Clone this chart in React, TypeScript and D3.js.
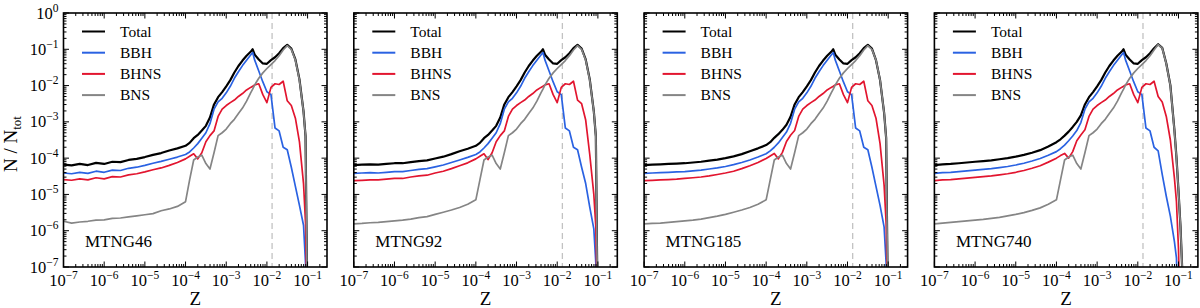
import React, { useEffect, useRef } from 'react';
import * as d3 from 'd3';

// log10(Z) of the bins shared by every panel
const zExp = [-7.0, -6.8, -6.6, -6.4, -6.2, -6.0, -5.8, -5.6, -5.4, -5.2, -5.0, -4.8, -4.6, -4.4, -4.2,
  -4.0, -3.9, -3.8, -3.7, -3.6, -3.5, -3.4, -3.3, -3.2, -3.1,
  -3.0, -2.9, -2.8, -2.7, -2.6, -2.5, -2.4, -2.35, -2.3, -2.2,
  -2.1, -2.0, -1.9, -1.8, -1.7, -1.6, -1.5, -1.4, -1.3, -1.2,
  -1.1, -1.05, -1.0, -0.95, -0.9, -0.85];

// log10(N/Ntot), null where the curve has ended
const total46 = [-4.18, -4.20, -4.16, -4.19, -4.13, -4.16, -4.10, -4.11, -4.05, -4.02, -3.97, -3.91, -3.86, -3.79, -3.73,
  -3.66, -3.58, -3.45, -3.36, -3.24, -3.11, -2.88, -2.52, -2.32, -2.18,
  -2.02, -1.85, -1.64, -1.46, -1.31, -1.18, -1.07, -1.00, -1.15, -1.28,
  -1.39, -1.40, -1.30, -1.22, -1.11, -0.97, -0.88, -0.98, -1.28, -1.83,
  -2.71, -3.40, -9, null, null, null];
const bbh46 = [-4.41, -4.43, -4.39, -4.42, -4.36, -4.39, -4.33, -4.34, -4.28, -4.25, -4.20, -4.14, -4.09, -4.03, -3.97,
  -3.90, -3.83, -3.72, -3.60, -3.45, -3.30, -3.05, -2.65, -2.45, -2.35,
  -2.20, -2.02, -1.80, -1.62, -1.45, -1.30, -1.16, -1.09, -1.30, -1.60,
  -1.90, -2.17, -2.25, -3.17, -3.25, -3.70, -3.77, -4.25, -4.78, -5.30,
  -5.85, -6.90, -9, null, null, null];
const bhns46 = [-4.59, -4.61, -4.57, -4.60, -4.54, -4.57, -4.51, -4.52, -4.46, -4.43, -4.38, -4.32, -4.27, -4.20, -4.12,
  -4.02, -3.95, -3.88, -4.02, -3.85, -3.55, -3.38, -3.25, -2.85, -2.65,
  -2.55, -2.47, -2.40, -2.30, -2.22, -2.12, -2.05, -2.02, -1.98, -1.95,
  -2.25, -2.47, -2.05, -1.95, -1.97, -1.88, -2.42, -2.55, -2.90, -3.55,
  -4.70, -5.80, -9, null, null, null];
const bns46 = [-5.74, -5.79, -5.76, -5.74, -5.71, -5.70, -5.66, -5.65, -5.62, -5.59, -5.56, -5.53, -5.45, -5.40, -5.33,
  -5.20, -4.60, -4.05, -3.97, -3.92, -4.15, -4.30, -3.85, -3.38, -3.30,
  -3.20, -3.05, -2.93, -2.77, -2.62, -2.43, -2.20, -2.10, -1.98, -1.80,
  -1.65, -1.53, -1.42, -1.31, -1.18, -1.02, -0.90, -1.00, -1.30, -1.85,
  -2.72, -3.40, -9, null, null, null];

const total92 = [-4.19, -4.18, -4.17, -4.18, -4.16, -4.14, -4.14, -4.11, -4.08, -4.06, -4.01, -3.96, -3.89, -3.81, -3.74,
  -3.66, -3.58, -3.45, -3.36, -3.24, -3.11, -2.88, -2.52, -2.32, -2.18,
  -2.02, -1.85, -1.64, -1.46, -1.31, -1.18, -1.07, -1.00, -1.15, -1.28,
  -1.39, -1.40, -1.30, -1.22, -1.11, -0.97, -0.88, -0.98, -1.28, -1.83,
  -2.71, -3.40, -9, null, null, null];
const bbh92 = [-4.42, -4.41, -4.40, -4.41, -4.39, -4.37, -4.37, -4.34, -4.31, -4.29, -4.24, -4.19, -4.12, -4.05, -3.98,
  -3.90, -3.83, -3.72, -3.60, -3.45, -3.30, -3.05, -2.65, -2.45, -2.35,
  -2.20, -2.02, -1.80, -1.62, -1.45, -1.30, -1.16, -1.09, -1.30, -1.60,
  -1.90, -2.17, -2.25, -3.17, -3.25, -3.70, -3.77, -4.25, -4.70, -5.35,
  -5.95, -6.90, -9, null, null, null];
const bhns92 = [-4.62, -4.61, -4.60, -4.60, -4.58, -4.56, -4.56, -4.52, -4.49, -4.47, -4.41, -4.36, -4.29, -4.21, -4.13,
  -4.02, -3.95, -3.88, -4.04, -3.85, -3.55, -3.38, -3.25, -2.85, -2.65,
  -2.55, -2.47, -2.40, -2.30, -2.22, -2.12, -2.05, -2.02, -1.98, -1.95,
  -2.25, -2.47, -2.05, -1.95, -1.97, -1.88, -2.40, -2.50, -2.95, -3.90,
  -5.00, -5.90, -9, null, null, null];
const bns92 = [-5.81, -5.80, -5.78, -5.77, -5.75, -5.73, -5.71, -5.68, -5.64, -5.61, -5.55, -5.49, -5.43, -5.36, -5.27,
  -5.15, -4.60, -4.05, -3.97, -3.92, -4.15, -4.30, -3.85, -3.38, -3.30,
  -3.20, -3.05, -2.93, -2.77, -2.62, -2.43, -2.20, -2.10, -1.98, -1.80,
  -1.65, -1.53, -1.42, -1.31, -1.18, -1.02, -0.90, -1.00, -1.30, -1.85,
  -2.72, -3.40, -9, null, null, null];

const total185 = [-4.19, -4.18, -4.17, -4.16, -4.15, -4.14, -4.12, -4.10, -4.07, -4.04, -4.00, -3.95, -3.89, -3.81, -3.73,
  -3.64, -3.56, -3.44, -3.34, -3.22, -3.08, -2.86, -2.52, -2.32, -2.18,
  -2.02, -1.85, -1.64, -1.46, -1.31, -1.18, -1.07, -1.00, -1.15, -1.28,
  -1.39, -1.40, -1.30, -1.22, -1.11, -0.97, -0.88, -0.98, -1.30, -1.85,
  -2.75, -3.45, -9, null, null, null];
const bbh185 = [-4.42, -4.41, -4.40, -4.39, -4.38, -4.37, -4.35, -4.33, -4.30, -4.27, -4.23, -4.18, -4.12, -4.05, -3.97,
  -3.88, -3.80, -3.70, -3.58, -3.43, -3.28, -3.04, -2.65, -2.45, -2.35,
  -2.20, -2.02, -1.80, -1.62, -1.45, -1.30, -1.16, -1.09, -1.30, -1.60,
  -1.90, -2.17, -2.25, -3.17, -3.25, -3.70, -3.77, -4.25, -4.78, -5.30,
  -5.90, -6.90, -9, null, null, null];
const bhns185 = [-4.62, -4.61, -4.60, -4.59, -4.58, -4.56, -4.54, -4.52, -4.49, -4.45, -4.41, -4.36, -4.29, -4.21, -4.12,
  -4.01, -3.94, -3.87, -4.02, -3.84, -3.54, -3.37, -3.24, -2.85, -2.65,
  -2.55, -2.47, -2.40, -2.30, -2.22, -2.12, -2.05, -2.02, -1.98, -1.95,
  -2.25, -2.47, -2.05, -1.95, -1.97, -1.88, -2.42, -2.55, -2.90, -3.60,
  -4.75, -5.80, -9, null, null, null];
const bns185 = [-5.81, -5.80, -5.79, -5.77, -5.75, -5.73, -5.71, -5.68, -5.64, -5.60, -5.55, -5.49, -5.43, -5.36, -5.27,
  -5.15, -4.60, -4.05, -3.97, -3.92, -4.15, -4.30, -3.85, -3.38, -3.30,
  -3.20, -3.05, -2.93, -2.77, -2.62, -2.43, -2.20, -2.10, -1.98, -1.80,
  -1.65, -1.53, -1.42, -1.31, -1.18, -1.02, -0.90, -1.00, -1.30, -1.85,
  -2.75, -3.45, -9, null, null, null];

const total740 = [-4.19, -4.17, -4.16, -4.14, -4.12, -4.10, -4.08, -4.06, -4.03, -4.00, -3.96, -3.91, -3.85, -3.78, -3.68,
  -3.56, -3.48, -3.38, -3.27, -3.14, -3.00, -2.82, -2.52, -2.32, -2.18,
  -2.02, -1.85, -1.64, -1.46, -1.31, -1.18, -1.07, -1.00, -1.15, -1.28,
  -1.39, -1.40, -1.30, -1.22, -1.11, -0.97, -0.86, -0.96, -1.39, -1.99,
  -3.23, -3.98, -4.90, -5.90, -7.30, -9];
const bbh740 = [-4.42, -4.40, -4.39, -4.37, -4.35, -4.33, -4.31, -4.29, -4.26, -4.23, -4.19, -4.14, -4.08, -4.01, -3.92,
  -3.82, -3.74, -3.64, -3.52, -3.39, -3.24, -3.02, -2.65, -2.45, -2.35,
  -2.20, -2.02, -1.80, -1.62, -1.45, -1.30, -1.16, -1.09, -1.30, -1.60,
  -1.90, -2.17, -2.25, -3.17, -3.25, -3.70, -3.80, -4.45, -5.05, -5.60,
  -6.30, -6.75, -9, null, null, null];
const bhns740 = [-4.62, -4.60, -4.59, -4.57, -4.55, -4.53, -4.51, -4.49, -4.46, -4.43, -4.39, -4.34, -4.28, -4.21, -4.11,
  -4.00, -3.93, -3.87, -4.00, -3.82, -3.52, -3.36, -3.22, -2.85, -2.65,
  -2.55, -2.47, -2.40, -2.30, -2.22, -2.12, -2.05, -2.02, -1.98, -1.95,
  -2.25, -2.47, -2.05, -1.95, -1.97, -1.88, -2.30, -2.45, -2.85, -3.50,
  -4.55, -5.20, -6.50, -9, null, null];
const bns740 = [-5.81, -5.79, -5.77, -5.75, -5.73, -5.71, -5.69, -5.66, -5.63, -5.59, -5.55, -5.50, -5.44, -5.37, -5.27,
  -5.15, -4.60, -4.05, -3.97, -3.92, -4.15, -4.30, -3.85, -3.38, -3.30,
  -3.20, -3.05, -2.93, -2.77, -2.62, -2.43, -2.20, -2.10, -1.98, -1.80,
  -1.65, -1.53, -1.42, -1.31, -1.18, -1.02, -0.87, -0.97, -1.40, -2.00,
  -3.25, -4.00, -4.90, -5.90, -7.30, -9];

const panelNames = ['MTNG46', 'MTNG92', 'MTNG185', 'MTNG740'];
const panelSeries = [
  [total46, bbh46, bhns46, bns46],
  [total92, bbh92, bhns92, bns92],
  [total185, bbh185, bhns185, bns185],
  [total740, bbh740, bhns740, bns740],
];
const seriesNames = ['Total', 'BBH', 'BHNS', 'BNS'];
const seriesColors = ['#000000', '#2a62e2', '#e2152f', '#858585'];
const seriesWidths = [2.2, 1.7, 1.7, 1.7];
const xTickExp = [-7, -6, -5, -4, -3, -2, -1];
const yTickExp = [0, -1, -2, -3, -4, -5, -6, -7];
const zSun = 0.0134;

const W = 1200;
const H = 308;
const left0 = 63.5;
const pitch = 290.3;
const panelW = 263.5;
const top = 13;
const bottom = 267;
const font = '"Liberation Serif", "Times New Roman", serif';

export default function App() {
  const ref = useRef<SVGSVGElement>(null);

  useEffect(() => {
    const svg = d3.select(ref.current);
    svg.selectAll('*').remove();

    const x = d3.scaleLog().domain([1e-7, 0.3]).range([0, panelW]);
    const y = d3.scaleLog().domain([1e-7, 1]).range([bottom, top]);

    const xMinor: number[] = [];
    for (let d = -7; d <= -1; d++) {
      for (let k = 2; k <= 9; k++) {
        const v = k * Math.pow(10, d);
        if (v < 0.3 * 0.999) xMinor.push(v);
      }
    }
    const yMinor: number[] = [];
    for (let d = -7; d <= -1; d++) {
      for (let k = 2; k <= 9; k++) yMinor.push(k * Math.pow(10, d));
    }

    const line = d3.line<[number, number | null]>()
      .defined(d => d[1] !== null)
      .x(d => x(Math.pow(10, d[0])))
      .y(d => y(Math.pow(10, d[1] as number)));

    panelNames.forEach((name, p) => {
      const g = svg.append('g').attr('transform', `translate(${left0 + p * pitch},0)`);

      g.append('clipPath').attr('id', `clip${p}`)
        .append('rect').attr('x', 0).attr('y', top).attr('width', panelW).attr('height', bottom - top);

      // solar metallicity
      g.append('line')
        .attr('x1', x(zSun)).attr('x2', x(zSun))
        .attr('y1', top).attr('y2', bottom)
        .attr('stroke', '#c2c2c2').attr('stroke-width', 1.3)
        .attr('stroke-dasharray', '6 4');

      const plot = g.append('g').attr('clip-path', `url(#clip${p})`);
      panelSeries[p].forEach((vals, s) => {
        const pts = zExp.map((e, i) => [e, vals[i]] as [number, number | null]);
        plot.append('path')
          .attr('d', line(pts))
          .attr('fill', 'none')
          .attr('stroke', seriesColors[s])
          .attr('stroke-width', seriesWidths[s])
          .attr('stroke-linejoin', 'round');
      });

      // ticks on all four sides, pointing inward
      const ticks = g.append('g').attr('stroke', '#000').attr('stroke-width', 1);
      const xt = (v: number, len: number) => {
        ticks.append('line').attr('x1', x(v)).attr('x2', x(v)).attr('y1', bottom).attr('y2', bottom - len);
        ticks.append('line').attr('x1', x(v)).attr('x2', x(v)).attr('y1', top).attr('y2', top + len);
      };
      const yt = (v: number, len: number) => {
        ticks.append('line').attr('x1', 0).attr('x2', len).attr('y1', y(v)).attr('y2', y(v));
        ticks.append('line').attr('x1', panelW).attr('x2', panelW - len).attr('y1', y(v)).attr('y2', y(v));
      };
      xTickExp.forEach(e => xt(Math.pow(10, e), 5.5));
      xMinor.forEach(v => xt(v, 3));
      yTickExp.forEach(e => yt(Math.pow(10, e), 5.5));
      yMinor.forEach(v => yt(v, 3));

      g.append('rect')
        .attr('x', 0).attr('y', top).attr('width', panelW).attr('height', bottom - top)
        .attr('fill', 'none').attr('stroke', '#000').attr('stroke-width', 1.6);

      // x tick labels
      xTickExp.forEach(e => {
        const t = g.append('text')
          .attr('x', x(Math.pow(10, e))).attr('y', 285.5)
          .attr('text-anchor', 'middle')
          .attr('font-family', font).attr('font-size', 16.5);
        t.append('tspan').text('10');
        t.append('tspan').attr('font-size', 11.5).attr('dy', -7).text('\u2212' + Math.abs(e));
      });

      g.append('text')
        .attr('x', panelW / 2).attr('y', 305)
        .attr('text-anchor', 'middle')
        .attr('font-family', font).attr('font-size', 19)
        .text('Z');

      // legend
      seriesNames.forEach((sn, s) => {
        const ly = 31.5 + s * 21.2;
        g.append('line')
          .attr('x1', 18.5).attr('x2', 41.5).attr('y1', ly).attr('y2', ly)
          .attr('stroke', seriesColors[s]).attr('stroke-width', 2);
        g.append('text')
          .attr('x', 56.5).attr('y', ly + 5)
          .attr('font-family', font).attr('font-size', 15.5)
          .text(sn);
      });

      g.append('text')
        .attr('x', 21.5).attr('y', 246.5)
        .attr('font-family', font).attr('font-size', 17)
        .text(name);

      if (p === 0) {
        yTickExp.forEach(e => {
          const t = g.append('text')
            .attr('x', -5).attr('y', y(Math.pow(10, e)) + 5.5)
            .attr('text-anchor', 'end')
            .attr('font-family', font).attr('font-size', 16.5);
          t.append('tspan').text('10');
          t.append('tspan').attr('font-size', 11.5).attr('dy', -7).text(e === 0 ? '0' : '\u2212' + Math.abs(e));
        });
      }
    });

    const yl = svg.append('text')
      .attr('transform', `translate(17,${(top + bottom) / 2 + 4}) rotate(-90)`)
      .attr('text-anchor', 'middle')
      .attr('font-family', font).attr('font-size', 19);
    yl.append('tspan').text('N / N');
    yl.append('tspan').attr('font-size', 13).attr('dy', 4).text('tot');
  }, []);

  return (
    <svg ref={ref} width={W} height={H}
      style={{ position: 'absolute', left: 0, top: 0, background: '#fff' }} />
  );
}
